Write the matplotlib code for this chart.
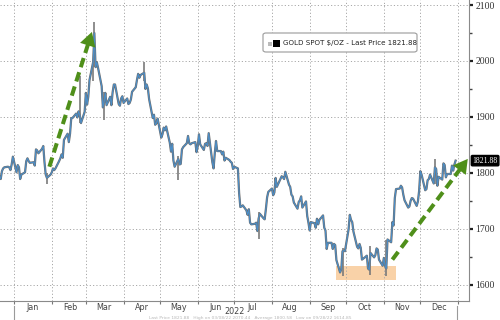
import numpy as np
import pandas as pd
import matplotlib
matplotlib.use("Agg")
import matplotlib.pyplot as plt
import matplotlib.dates as mdates
import matplotlib.transforms as mtrans
from matplotlib.patches import Rectangle, Polygon, FancyBboxPatch

# ---------------- data (daily closes) ----------------
dec21 = [1794, 1789, 1803, 1808, 1810, 1811, 1810, 1805, 1815, 1829]
jan = [1801, 1814, 1810, 1789, 1797, 1801, 1821, 1826, 1821, 1818,
       1819, 1813, 1842, 1840, 1835, 1843, 1848, 1819, 1797, 1791, 1797]
feb = [1801, 1808, 1805, 1808, 1821, 1826, 1833, 1827, 1859, 1870,
       1855, 1870, 1898, 1898, 1906, 1899, 1910, 1903, 1889, 1909]
mar = [1943, 1922, 1936, 1966, 1998, 2050, 1989, 1998, 1988, 1955, 1917, 1927,
       1943, 1921, 1936, 1921, 1944, 1958, 1958, 1923, 1920, 1933, 1937]
apr = [1925, 1933, 1923, 1925, 1931, 1945, 1953, 1966, 1977, 1970, 1975,
       1979, 1950, 1958, 1951, 1932, 1898, 1904, 1886, 1889, 1897]
may = [1863, 1869, 1881, 1876, 1883, 1854, 1838, 1852, 1822, 1811, 1825,
       1815, 1816, 1842, 1846, 1853, 1866, 1853, 1851, 1853, 1855, 1837]
jun = [1848, 1869, 1851, 1841, 1852, 1853, 1848, 1871, 1819, 1808, 1835,
       1857, 1839, 1839, 1833, 1838, 1822, 1827, 1823, 1820, 1818, 1807]
jul = [1811, 1808, 1764, 1739, 1740, 1742, 1733, 1725, 1735, 1711, 1708,
       1709, 1711, 1696, 1718, 1727, 1719, 1717, 1735, 1756, 1766]
aug = [1772, 1760, 1765, 1791, 1775, 1789, 1794, 1792, 1789, 1802, 1779, 1775,
       1761, 1758, 1747, 1736, 1748, 1751, 1758, 1738, 1749, 1723, 1711]
sep = [1697, 1712, 1710, 1702, 1718, 1708, 1716, 1724, 1702, 1697, 1664,
       1675, 1675, 1664, 1673, 1671, 1644, 1622, 1628, 1660, 1661, 1660]
oct_ = [1699, 1725, 1716, 1712, 1695, 1668, 1665, 1673, 1666, 1645, 1650,
        1652, 1629, 1627, 1657, 1649, 1653, 1665, 1663, 1645, 1634]
nov = [1648, 1634, 1629, 1681, 1676, 1712, 1706, 1755, 1771, 1772, 1777,
       1774, 1761, 1751, 1738, 1740, 1750, 1755, 1754, 1741, 1749, 1768]
dec = [1803, 1797, 1769, 1771, 1787, 1789, 1797, 1781, 1810, 1807, 1777,
       1793, 1788, 1817, 1814, 1792, 1798, 1798, 1813, 1804, 1815, 1821.88]

month_starts = ["2021-12-20", "2022-01-01", "2022-02-01", "2022-03-01", "2022-04-01",
                "2022-05-01", "2022-06-01", "2022-07-01", "2022-08-01", "2022-09-01",
                "2022-10-01", "2022-11-01", "2022-12-01"]
month_vals = [dec21, jan, feb, mar, apr, may, jun, jul, aug, sep, oct_, nov, dec]

# notable intraday extremes (wicks)
wick_dates = ["2022-02-24", "2022-03-07", "2022-03-08", "2022-03-16", "2022-04-18",
              "2022-05-16", "2022-07-21", "2022-09-28", "2022-10-21", "2022-11-03",
              "2022-01-28", "2022-12-13"]
wick_lows = [1890, 1965, 1990, 1895, 1965, 1787, 1681, 1615, 1618, 1616, 1780, 1780]
wick_highs = [1974, 2002, 2070, 1945, 1998, 1830, 1730, 1665, 1670, 1680, 1800, 1825]

last_price = 1821.88
series_label = "GOLD SPOT $/OZ - Last Price 1821.88"
month_labels = ["Jan", "Feb", "Mar", "Apr", "May", "Jun", "Jul", "Aug", "Sep",
                "Oct", "Nov", "Dec"]
year_label = "2022"
footer = ("Last Price 1821.88   High on 03/08/22 2070.44   Average 1800.58   "
          "Low on 09/28/22 1614.85")

# arrows / highlight (date, value)
arrow1 = (("2022-01-30", 1811), ("2022-03-06", 2052))
arrow2 = (("2022-11-08", 1645), ("2023-01-09", 1825))
box_range = (("2022-09-23", 1609), ("2022-11-11", 1633))

# ---------------- build series ----------------
dates, closes = [], []
for start, vals in zip(month_starts, month_vals):
    d = pd.bdate_range(start, periods=len(vals))
    dates.extend(d)
    closes.extend(vals)
dates = pd.DatetimeIndex(dates)
closes = np.array(closes, dtype=float)

plt.rcParams['font.family'] = ['DejaVu Sans']
fig = plt.figure(figsize=(5, 3.2), dpi=100)
ax = fig.add_axes([0.0, 19 / 320, 469 / 500, 301 / 320])

ax.set_xlim(pd.Timestamp("2021-12-20 10:00"), pd.Timestamp("2023-01-10"))
ax.set_ylim(1571, 2109)

# highlight box
(bx0, by0), (bx1, by1) = box_range
x0 = mdates.date2num(pd.Timestamp(bx0)); x1 = mdates.date2num(pd.Timestamp(bx1))
ax.add_patch(Rectangle((x0, by0), x1 - x0, by1 - by0, facecolor="#f9d2a8",
                       edgecolor="none", zorder=1))

# price
ax.plot(dates, closes, color="#6e6e6e", lw=1.6, zorder=2)
ax.plot(dates, closes, color="#4b8ec8", lw=0.8, zorder=3)
ax.vlines(pd.to_datetime(wick_dates), wick_lows, wick_highs, color="#7a7a7a",
          lw=1.2, zorder=2)

# arrows: dashed shaft + solid triangular head (sized in pixels)
green = "#4f8f1a"
inv = ax.transData.inverted()
for (d0, v0), (d1, v1) in (arrow1, arrow2):
    p0 = ax.transData.transform((mdates.date2num(pd.Timestamp(d0)), v0))
    p1 = ax.transData.transform((mdates.date2num(pd.Timestamp(d1)), v1))
    u = (p1 - p0) / np.hypot(*(p1 - p0))
    n = np.array([-u[1], u[0]])
    L, W = 14.0, 8.0
    base = p1 - u * L
    shaft = inv.transform(np.vstack([p0, base + u * 1.0]))
    ax.plot(shaft[:, 0], shaft[:, 1], color=green, lw=2.9,
            linestyle=(0, (2.4, 1.3)), solid_capstyle="butt",
            dash_capstyle="butt", zorder=5)
    head = inv.transform(np.vstack([p1, base + n * W, base - n * W]))
    ax.add_patch(Polygon(head, closed=True, fc=green, ec="none", zorder=5))

# axes styling
for s in ["top", "left"]:
    ax.spines[s].set_visible(False)
ax.spines["bottom"].set_color("#8a8a8a")
ax.spines["right"].set_color("#8a8a8a")

ax.yaxis.tick_right()
ax.set_yticks([1600, 1700, 1800, 1900, 2000, 2100])
ax.set_yticks(np.arange(1650, 2100, 100), minor=True)
ax.tick_params(axis="y", which="major", direction="out", length=3, width=1.6,
               color="#222222", pad=1.5, labelcolor="#333333")
ax.tick_params(axis="y", which="minor", direction="out", length=2, width=1.0,
               color="#444444")
for t in ax.get_yticklabels():
    t.set_fontfamily("Liberation Serif")
    t.set_fontsize(7)

ax.xaxis.set_major_locator(mdates.MonthLocator())
ax.xaxis.set_major_formatter(plt.NullFormatter())
mids = pd.date_range("2022-01-01", periods=12, freq="MS") + pd.Timedelta(days=15)
ax.set_xticks(mids, minor=True)
ax.xaxis.set_minor_formatter(plt.FixedFormatter(month_labels))
ax.tick_params(axis="x", which="major", direction="out", length=2.5, width=0.8,
               color="#777777")
ax.tick_params(axis="x", which="minor", length=0, labelsize=5.8, pad=1.5,
               labelcolor="#444444")

ax.grid(True, which="major", axis="both", linestyle=(0, (1.2, 2.2)),
        color="#a8a8a8", lw=0.7, zorder=0)

# year separators and label
tr = mtrans.blended_transform_factory(ax.transData, ax.transAxes)
for d in ["2022-01-01", "2022-12-31"]:
    ax.plot([pd.Timestamp(d)] * 2, [-0.015, -0.07], transform=tr, color="#9a9a9a",
            lw=0.8, clip_on=False)
fig.text(235 / 500, 1 - 312 / 320, year_label, ha="center", va="center",
         fontsize=5.8, color="#444444")

# faint footer line
fig.text(250 / 500, 0.0, footer, ha="center", va="bottom",
         fontsize=3.2, color="#b8b8b8")

# last price tag
ax.annotate(f"{last_price:.2f}", xy=(1.0, last_price), xycoords=("axes fraction", "data"),
            xytext=(2.5, 0), textcoords="offset points", ha="left", va="center",
            fontsize=5.6, color="white", fontfamily="Liberation Serif",
            bbox=dict(boxstyle="round,pad=0.15", fc="black", ec="black"),
            annotation_clip=False)

# legend box
fig.patches.append(FancyBboxPatch((263 / 500, 1 - 52 / 320), 154 / 500, 19 / 320,
                                  boxstyle="round,pad=0,rounding_size=0.006",
                                  transform=fig.transFigure, fc="white",
                                  ec="#9a9a9a", lw=0.8, figure=fig, zorder=10))
fig.text(283 / 500, 1 - 43 / 320, series_label, ha="left", va="center",
         fontsize=5.1, color="#222222", zorder=11)
fig.patches.append(Rectangle((268 / 500, 1 - 45.5 / 320), 4 / 500, 4 / 320,
                             transform=fig.transFigure, fc="#bbbbbb", ec="none",
                             figure=fig, zorder=11))
fig.patches.append(Rectangle((273 / 500, 1 - 47 / 320), 7 / 500, 7 / 320,
                             transform=fig.transFigure, fc="black", ec="none",
                             figure=fig, zorder=11))

fig.savefig("out.png", dpi=100)
